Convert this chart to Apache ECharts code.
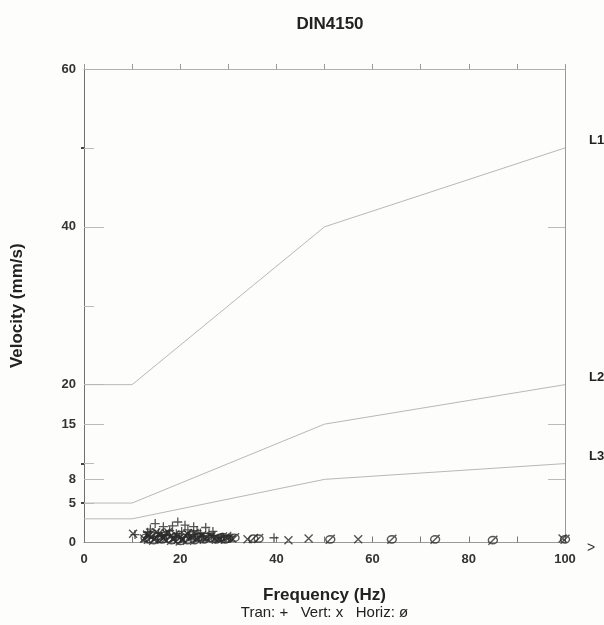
<!DOCTYPE html>
<html>
<head>
<meta charset="utf-8">
<script src="https://cdn.jsdelivr.net/npm/echarts@6/dist/echarts.min.js"></script>
<style>
html,body{margin:0;padding:0;background:#fdfdfb;}
#chart{width:604px;height:625px;}
</style>
</head>
<body>
<div id="chart"></div>
<script>
// Limit lines (DIN4150): [frequency Hz, velocity mm/s]
const lineL1 = [[0, 20], [10, 20], [50, 40], [100, 50]];
const lineL2 = [[0, 5], [10, 5], [50, 15], [100, 20]];
const lineL3 = [[0, 3], [10, 3], [50, 8], [100, 10]];
const lineNames = ['L1', 'L2', 'L3'];

// Measured peaks: [frequency Hz, velocity mm/s]
const tranPoints = [[10.6, 1.0], [13.2, 1.3], [13.8, 1.7], [14.8, 2.4], [15.5, 1.2], [16.2, 0.8], [16.5, 2.0], [17.2, 1.0], [17.8, 1.5], [18.4, 2.1], [19.2, 1.1], [19.5, 2.6], [20.3, 1.4], [21, 2.2], [21.6, 1.6], [22, 1.0], [22.8, 2.0], [23.5, 1.5], [24.2, 1.2], [24.5, 0.8], [25.3, 1.9], [26, 1.2], [26.8, 1.4], [27, 0.9], [28.5, 0.6], [30.5, 0.8], [39.5, 0.6]];
const vertPoints = [[10.2, 1.1], [12.5, 0.5], [13.1, 1.0], [13.5, 0.9], [14.5, 0.4], [15, 1.3], [15.5, 1.1], [16.5, 0.6], [17, 1.2], [17.5, 1.3], [18.5, 0.5], [19, 1.0], [19.5, 0.8], [20.5, 0.4], [21, 0.9], [21.5, 1.1], [22.5, 0.7], [23, 1.2], [23.5, 0.4], [24.5, 0.9], [25.5, 0.5], [26.5, 0.8], [27.2, 0.5], [28, 0.4], [29.5, 0.7], [30.8, 0.5], [34, 0.4], [42.5, 0.3], [46.7, 0.5], [57, 0.4], [99.5, 0.5]];
const horizPoints = [[12.8, 0.6], [13.4, 0.4], [13.8, 1.0], [14.5, 0.3], [15.3, 0.8], [15.8, 0.5], [16.2, 0.4], [17, 0.9], [17.6, 0.5], [18.2, 0.3], [19, 0.7], [19.6, 0.4], [20, 0.2], [21, 0.6], [21.5, 0.3], [22.2, 0.9], [23, 0.3], [23.6, 0.6], [24, 0.7], [25, 0.4], [25.6, 0.7], [26.2, 0.6], [27.5, 0.4], [28.2, 0.6], [28.8, 0.7], [29.4, 0.4], [30, 0.5], [31.3, 0.6], [35.2, 0.5], [36.3, 0.5], [51.2, 0.4], [64, 0.4], [73, 0.4], [85, 0.3], [100, 0.4]];

// Axis ticks / labels
const xLabelValues = [0, 20, 40, 60, 80, 100];
const yLabelValues = [0, 5, 8, 15, 20, 40, 60];
const yLongTicksLeft = [8, 15, 20, 40];
const yShortTicksLeft = [5, 10, 50];
const yLongTicksRight = [8, 15, 40];
const yShortTicksRight = [5, 8, 10, 15, 20, 30, 40, 50];

const titleText = 'DIN4150';
const xName = 'Frequency (Hz)';
const legendLine = 'Tran: +   Vert: x   Horiz: ø';
const yName = 'Velocity (mm/s)';

const FONT = '"Liberation Sans", Arial, sans-serif';
const chart = echarts.init(document.getElementById('chart'), null, {renderer: 'canvas'});

function yAx(opts) {
  return Object.assign({
    type: 'value', min: 0, max: 60,
    splitLine: {show: false},
    axisLine: {show: true, lineStyle: {color: '#8a8a8a', width: 1}},
    axisLabel: {show: false},
    axisTick: {show: false}
  }, opts);
}

const option = {
  backgroundColor: '#fdfdfb',
  animation: false,
  title: {
    text: titleText, left: 325, top: 11, textAlign: 'center',
    textStyle: {fontFamily: FONT, fontSize: 17, fontWeight: 'bold', color: '#222'}
  },
  grid: {left: 84, right: 39, top: 69, bottom: 82, containLabel: false},
  xAxis: [
    {
      type: 'value', min: 0, max: 100, interval: 10, position: 'bottom',
      name: '{a|' + xName + '}\n{b|' + legendLine + '}',
      nameLocation: 'middle', nameGap: 44,
      nameTextStyle: {rich: {
        a: {fontFamily: FONT, fontSize: 17, fontWeight: 'bold', color: '#222', lineHeight: 18},
        b: {fontFamily: FONT, fontSize: 15, color: '#222', lineHeight: 16}
      }},
      splitLine: {show: false},
      axisLine: {show: true, onZero: false, lineStyle: {color: '#9a9a9a'}},
      axisTick: {show: true, inside: true, length: 6, lineStyle: {color: '#777'}},
      axisLabel: {customValues: xLabelValues, margin: 10, fontFamily: FONT, fontSize: 13, fontWeight: 'bold', color: '#333'}
    },
    {
      type: 'value', min: 0, max: 100, interval: 10, position: 'top',
      splitLine: {show: false},
      axisLine: {show: true, onZero: false, lineStyle: {color: '#b0b0b0'}},
      axisTick: {show: true, inside: false, length: 5, lineStyle: {color: '#999'}},
      axisLabel: {show: false}
    }
  ],
  yAxis: [
    yAx({
      position: 'left',
      name: yName, nameLocation: 'middle', nameGap: 58, nameRotate: 90,
      nameTextStyle: {fontFamily: FONT, fontSize: 17, fontWeight: 'bold', color: '#222'},
      axisLine: {show: true, onZero: false, lineStyle: {color: '#6f6f6f', width: 1}},
      axisLabel: {show: true, customValues: yLabelValues, margin: 8, fontFamily: FONT, fontSize: 13, fontWeight: 'bold', color: '#333'},
      axisTick: {show: true, customValues: yLongTicksLeft, inside: true, length: 20, lineStyle: {color: '#bbb'}}
    }),
    yAx({
      position: 'left',
      axisLine: {show: false},
      axisTick: {show: true, customValues: yShortTicksLeft, inside: false, length: 3, lineStyle: {color: '#444', width: 2}}
    }),
    yAx({
      position: 'right',
      axisLine: {show: true, onZero: false, lineStyle: {color: '#999'}},
      axisTick: {show: true, customValues: yLongTicksRight, inside: true, length: 17, lineStyle: {color: '#bbb'}}
    }),
    yAx({
      position: 'right',
      axisLine: {show: false},
      axisTick: {show: true, customValues: yShortTicksRight, inside: false, length: 10, lineStyle: {color: '#bbb'}}
    })
  ],
  graphic: [
    {type: 'text', left: 587, top: 541, style: {text: '>', font: '14px ' + FONT, fill: '#333'}}
  ],
  series: [
    ...[lineL1, lineL2, lineL3].map((d, i) => ({
      type: 'line', name: lineNames[i], data: d, symbol: 'none', silent: true,
      lineStyle: {color: '#b8b8b8', width: 1},
      endLabel: {show: true, formatter: '{a}', distance: 24, offset: [0, -7],
        fontFamily: FONT, fontSize: 13, fontWeight: 'bold', color: '#222'}
    })),
    {
      type: 'scatter', name: 'Tran', data: tranPoints,
      symbol: 'path://M5,0 L5,10 M0,5 L10,5', symbolSize: 9,
      itemStyle: {color: 'rgba(0,0,0,0)', borderColor: '#2a2a2a', borderWidth: 1.3}
    },
    {
      type: 'scatter', name: 'Vert', data: vertPoints,
      symbol: 'path://M0,0 L10,10 M10,0 L0,10', symbolSize: 8,
      itemStyle: {color: 'rgba(0,0,0,0)', borderColor: '#2a2a2a', borderWidth: 1.4}
    },
    {
      type: 'scatter', name: 'Horiz', data: horizPoints,
      symbol: 'path://M5,1 A4,4 0 1,1 4.99,1 Z M1,10 L9,0', symbolSize: 9,
      itemStyle: {color: 'rgba(0,0,0,0)', borderColor: '#2a2a2a', borderWidth: 1.4}
    }
  ]
};
chart.setOption(option);
</script>
</body>
</html>
